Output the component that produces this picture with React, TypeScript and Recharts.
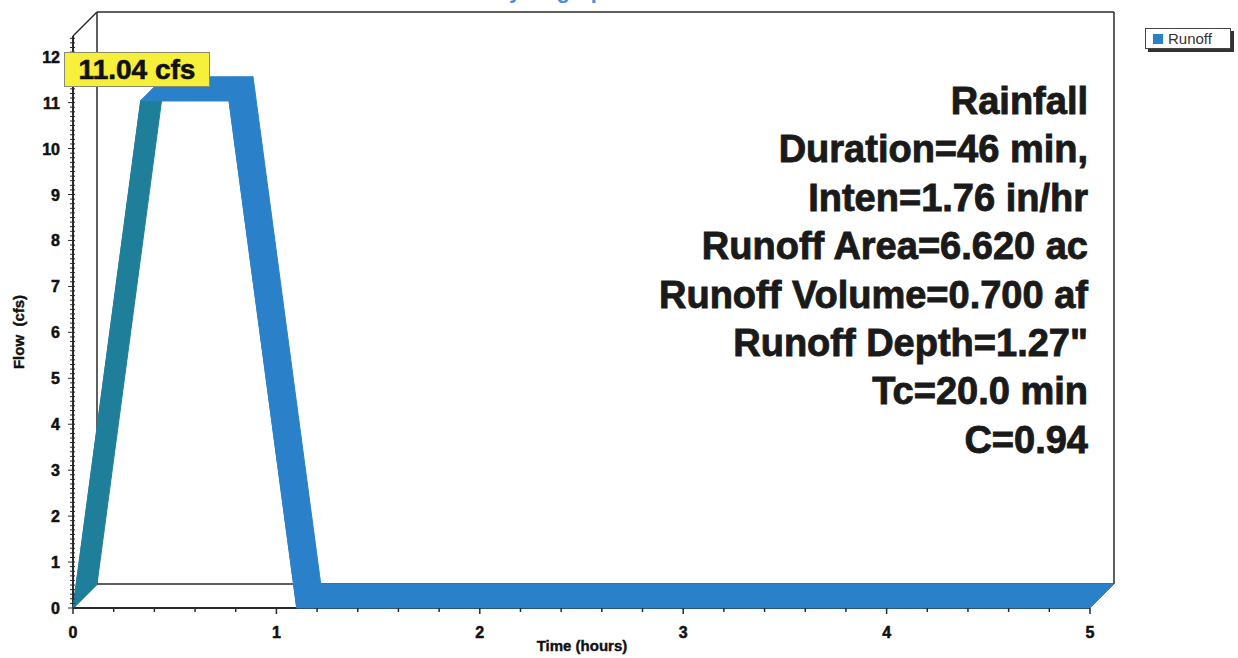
import React from "react";
import { LineChart, Line, XAxis, YAxis, ReferenceLine } from "recharts";

// hydrograph (rational method), time in hours, flow in cfs
const timeHours = [0, 0.333, 0.767, 1.1, 5];
const flowCfs = [0, 11.04, 11.04, 0, 0];

const xLabelTicks = [0, 1, 2, 3, 4, 5];
const yLabelTicks = [0, 1, 2, 3, 4, 5, 6, 7, 8, 9, 10, 11, 12];
const infoLines = [
  "Rainfall",
  "Duration=46 min,",
  "Inten=1.76 in/hr",
  "Runoff Area=6.620 ac",
  "Runoff Volume=0.700 af",
  'Runoff Depth=1.27"',
  "Tc=20.0 min",
  "C=0.94",
];
const peakLabel = "11.04 cfs";
const seriesName = "Runoff";

const X_MAX = 5;
const Y_MAX = 12.45;
// minor ruler ticks
const xMinorTicks = Array.from({ length: 26 }, (_, i) => i / 5);
const yMinorTicks = Array.from({ length: 125 }, (_, i) => i / 10);

const data = timeHours.map((t, i) => ({ t, flow: flowCfs[i] }));

const DX = 24;
const DY = -24;
const BLUE = "#2a81c9";
const TEAL = "#1f7f9b";
const FRAME = "#2a2a2a";
const FONT = '"Liberation Sans", Arial, sans-serif';

const isMajor = (v: number) => Math.abs(v - Math.round(v)) < 1e-6;
const isLabelled = (v: number, list: number[]) => list.some((l) => Math.abs(l - v) < 1e-6);

const XTick = (props: any) => {
  const { x, y, payload } = props;
  const major = isLabelled(payload.value, xLabelTicks);
  return (
    <g>
      <line x1={x} y1={y} x2={x} y2={y + (major ? 6 : 4)} stroke={FRAME} strokeWidth={1.5} />
      {major && (
        <text x={x} y={y + 30} textAnchor="middle" fontSize={16} fontWeight="bold" fill="#111" stroke="#111" strokeWidth={0.5} fontFamily={FONT}>
          {Math.round(payload.value)}
        </text>
      )}
    </g>
  );
};

const YTick = (props: any) => {
  const { x, y, payload } = props;
  const major = isLabelled(payload.value, yLabelTicks);
  return (
    <g>
      <line x1={x - (major ? 5 : 3)} y1={y} x2={x + 2} y2={y} stroke={FRAME} strokeWidth={1} />
      {major && (
        <text x={x - 13} y={y + 6} textAnchor="end" fontSize={16} fontWeight="bold" fill="#111" stroke="#111" strokeWidth={0.5} fontFamily={FONT}>
          {Math.round(payload.value)}
        </text>
      )}
    </g>
  );
};

// the series is drawn as a ribbon swept back by the depth vector
const renderRibbon = (props: any) => {
  const { index, points } = props;
  if (index !== 0 || !points) return <g key={`rib-${index}`} />;
  const faces = [];
  for (let i = 0; i < points.length - 1; i++) {
    const a = points[i];
    const b = points[i + 1];
    const fill = b.y < a.y - 0.5 ? TEAL : BLUE;
    const d = `M${a.x},${a.y}L${b.x},${b.y}L${b.x + DX},${b.y + DY}L${a.x + DX},${a.y + DY}Z`;
    faces.push(<path key={i} d={d} fill={fill} stroke={fill} strokeWidth={1} strokeLinejoin="round" />);
  }
  return <g key="ribbon">{faces}</g>;
};

const backLine = (p: any) => (
  <line x1={p.x1 + DX} y1={p.y1 + DY} x2={p.x2 + DX} y2={p.y2 + DY} stroke={FRAME} strokeWidth={1.5} />
);

const leftEdges = (p: any) => (
  <g>
    <line x1={p.x1 + DX} y1={p.y1 + DY} x2={p.x2 + DX} y2={p.y2 + DY} stroke={FRAME} strokeWidth={1.5} />
    <line x1={p.x2} y1={p.y2} x2={p.x2 + DX} y2={p.y2 + DY} stroke={FRAME} strokeWidth={1.5} />
    <line x1={p.x1} y1={p.y1} x2={p.x1 + DX} y2={p.y1 + DY} stroke={FRAME} strokeWidth={1.5} />
  </g>
);

export default function App() {
  return (
    <div style={{ position: "absolute", left: 0, top: 0, width: 1238, height: 658, background: "#fff", overflow: "hidden", fontFamily: FONT }}>
      <div
        style={{ position: "absolute", left: 493, top: -20, fontSize: 22, fontWeight: "bold", color: "#4a90d9", lineHeight: "22px" }}
      >
        Hydrograph
      </div>
      <LineChart width={1238} height={658} data={data} margin={{ top: 36, right: 148, left: 0, bottom: 0 }}>
        <XAxis
          dataKey="t"
          type="number"
          domain={[0, X_MAX]}
          ticks={xMinorTicks}
          interval={0}
          height={50}
          tickSize={0}
          tickMargin={0}
          tickLine={false}
          axisLine={{ stroke: FRAME, strokeWidth: 2 }}
          tick={<XTick />}
        />
        <YAxis
          type="number"
          domain={[0, Y_MAX]}
          ticks={yMinorTicks}
          interval={0}
          width={73}
          tickSize={0}
          tickMargin={0}
          tickLine={false}
          axisLine={{ stroke: FRAME, strokeWidth: 2 }}
          tick={<YTick />}
        />
        <ReferenceLine segment={[{ x: 0, y: 0 }, { x: 0, y: Y_MAX }]} shape={leftEdges} />
        <ReferenceLine segment={[{ x: 0, y: Y_MAX }, { x: X_MAX, y: Y_MAX }]} shape={backLine} />
        <ReferenceLine segment={[{ x: X_MAX, y: 0 }, { x: X_MAX, y: Y_MAX }]} shape={backLine} />
        <ReferenceLine segment={[{ x: 0, y: 0 }, { x: X_MAX, y: 0 }]} shape={backLine} />
        <Line
          dataKey="flow"
          name={seriesName}
          stroke={BLUE}
          strokeWidth={1}
          dot={renderRibbon}
          activeDot={false}
          isAnimationActive={false}
        />
      </LineChart>

      <div
        style={{
          position: "absolute", left: 64, top: 52, width: 146, height: 35, background: "#f6f03a",
          border: "1px solid #8a8a70", boxSizing: "border-box", fontSize: 28, fontWeight: "bold",
          color: "#111", textAlign: "center", lineHeight: "34px", WebkitTextStroke: "0.6px #111",
        }}
      >
        {peakLabel}
      </div>

      <div
        style={{
          position: "absolute", right: 150, top: 77, textAlign: "right", fontSize: 38, fontWeight: "bold",
          color: "#1a1a1a", lineHeight: "48.4px", whiteSpace: "nowrap", WebkitTextStroke: "0.9px #1a1a1a",
        }}
      >
        {infoLines.map((l) => (
          <div key={l}>{l}</div>
        ))}
      </div>

      <div style={{ position: "absolute", left: 1145, top: 28, width: 84, height: 19, border: "1px solid #444", boxShadow: "3px 3px 0 #333", background: "#fff", display: "flex", alignItems: "center" }}>
        <span style={{ display: "inline-block", width: 10, height: 10, background: BLUE, marginLeft: 7, marginRight: 5 }} />
        <span style={{ fontSize: 15, color: "#333" }}>{seriesName}</span>
      </div>

      <div style={{ position: "absolute", left: 482, top: 637, width: 200, textAlign: "center", fontSize: 15, fontWeight: "bold", color: "#111", WebkitTextStroke: "0.4px #111" }}>
        Time  (hours)
      </div>
      <div
        style={{
          position: "absolute", left: 18, top: 332, transform: "translate(-50%, -50%) rotate(-90deg)",
          fontSize: 15, fontWeight: "bold", color: "#111", whiteSpace: "pre", WebkitTextStroke: "0.4px #111",
        }}
      >
        {"Flow  (cfs)"}
      </div>
    </div>
  );
}
